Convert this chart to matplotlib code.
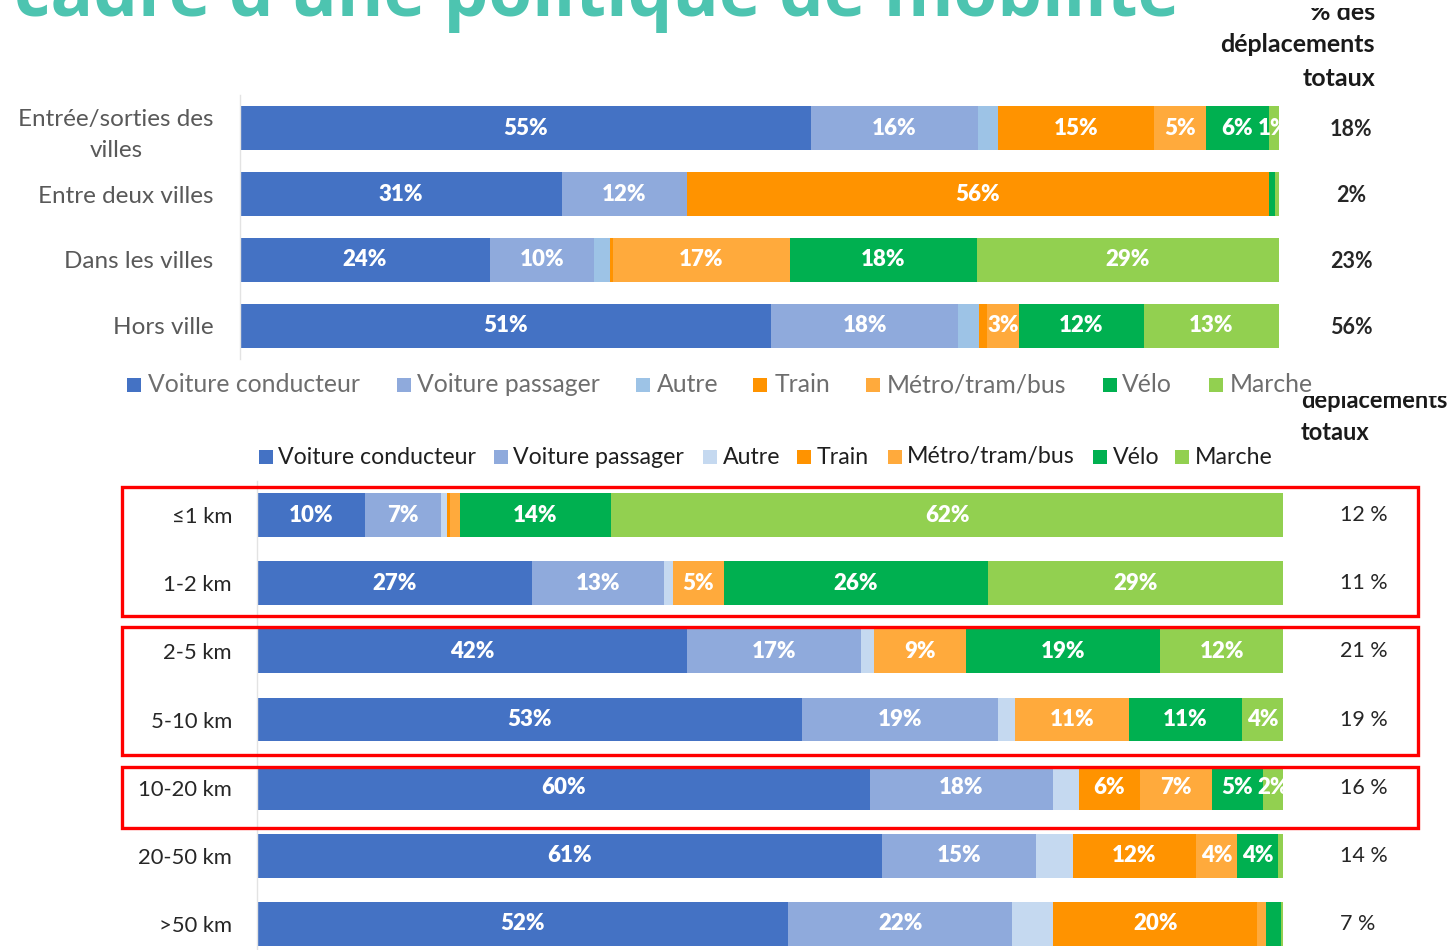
import matplotlib
matplotlib.use("Agg")
import matplotlib.pyplot as plt
from matplotlib.patches import Rectangle
import numpy as np

W, H = 1450, 950

# ---------------- data ----------------
series = ["Voiture conducteur", "Voiture passager", "Autre", "Train",
          "Métro/tram/bus", "Vélo", "Marche"]
colors_top = ["#4472C4", "#8FAADC", "#9DC3E6", "#FF9300", "#FFAA3C", "#00B050", "#92D050"]
colors_bot = ["#4472C4", "#8FAADC", "#C5D9F0", "#FF9300", "#FFAA3C", "#00B050", "#92D050"]

top_cats = ["Entrée/sorties des\nvilles", "Entre deux villes", "Dans les villes", "Hors ville"]
top_vc = [55, 31, 24, 51]
top_vp = [16, 12, 10, 18]
top_autre = [2, 0, 1.5, 2]
top_train = [15, 56, 0.3, 0.8]
top_metro = [5, 0, 17, 3]
top_velo = [6, 0.6, 18, 12]
top_marche = [1, 0.4, 29, 13]
top_share = ["18%", "2%", "23%", "56%"]

bot_cats = ["≤1 km", "1-2 km", "2-5 km", "5-10 km", "10-20 km", "20-50 km", ">50 km"]
bot_vc = [10, 27, 42, 53, 60, 61, 52]
bot_vp = [7, 13, 17, 19, 18, 15, 22]
bot_autre = [0.5, 0.9, 1.3, 1.7, 2.5, 3.6, 4]
bot_train = [0.3, 0, 0, 0, 6, 12, 20]
bot_metro = [0.9, 5, 9, 11, 7, 4, 0.8]
bot_velo = [14, 26, 19, 11, 5, 4, 1.5]
bot_marche = [62, 29, 12, 4, 2, 0.5, 0.2]
bot_share = ["12 %", "11 %", "21 %", "19 %", "16 %", "14 %", "7 %"]

title = "cadre d'une politique de mobilité"

# ---------------- helpers ----------------
plt.rcParams["font.family"] = ["Lato", "DejaVu Sans"]

fig = plt.figure(figsize=(W / 100, H / 100), dpi=100)
fig.patch.set_facecolor("white")


def fx(x):
    return x / W


def fy(y):
    return 1 - y / H


def axes_px(left, top, right, bottom):
    return fig.add_axes([fx(left), fy(bottom), (right - left) / W, (bottom - top) / H])


def stacked(ax, cats, cols, colors, height, fs):
    data = np.array(cols, dtype=float)  # series x rows
    totals = data.sum(axis=0)
    norm = data / totals * 100
    y = np.arange(len(cats))
    left = np.zeros(len(cats))
    for i, name in enumerate(series):
        ax.barh(y, norm[i], left=left, height=height, color=colors[i],
                edgecolor="none", zorder=2)
        for j in range(len(cats)):
            v = data[i, j]
            if name != "Autre" and v > 0 and float(v).is_integer():
                ax.text(left[j] + norm[i, j] / 2, y[j], f"{v:.0f}%", ha="center",
                        va="center", color="white", fontsize=fs, fontweight="heavy",
                        clip_on=True, zorder=3)
        left += norm[i]
    ax.set_xlim(0, 100)
    ax.set_ylim(len(cats) - 0.5, -0.5)
    ax.set_xticks([])
    for s in ["top", "right", "bottom"]:
        ax.spines[s].set_visible(False)
    ax.spines["left"].set_color("#E3E3E3")
    ax.spines["left"].set_linewidth(1.0)
    ax.set_yticks(y)
    ax.tick_params(axis="y", length=0)
    ax.set_facecolor("none")


# ---------------- top chart ----------------
ax1 = axes_px(240, 95, 1279, 359)
stacked(ax1, top_cats,
        [top_vc, top_vp, top_autre, top_train, top_metro, top_velo, top_marche],
        colors_top, 44 / 66, 16)
ax1.set_yticklabels(top_cats, fontsize=17.5, color="#595959", linespacing=1.6)
ax1.tick_params(axis="y", pad=19)
for lab in ax1.get_yticklabels():
    lab.set_multialignment("center")
for j, s in enumerate(top_share):
    fig.text(fx(1351), fy(130 + 66 * j), s, ha="center", va="center",
             fontsize=15.5, fontweight="bold", color="#262626")

# header top (first line partly hidden under the title area)
for txt, yy in [("% des", 12), ("déplacements", 45), ("totaux", 78)]:
    fig.text(fx(1375), fy(yy), txt, ha="right", va="center", fontsize=18,
             fontweight="bold", color="#1A1A1A", zorder=3)
fig.add_artist(Rectangle((fx(1290), fy(8)), (1400 - 1290) / W, 8 / H,
                         transform=fig.transFigure, facecolor="white",
                         edgecolor="none", zorder=3.5))

# ---------------- bottom chart ----------------
ax2 = axes_px(257, 481, 1283, 958)
stacked(ax2, bot_cats,
        [bot_vc, bot_vp, bot_autre, bot_train, bot_metro, bot_velo, bot_marche],
        colors_bot, 0.645, 16)
ax2.set_yticklabels(bot_cats, fontsize=15.8, color="#262626")
ax2.tick_params(axis="y", pad=18)
row_h = (924 - 515) / 6
for j, s in enumerate(bot_share):
    fig.text(fx(1340), fy(515 + row_h * j), s, ha="left", va="center",
             fontsize=15.5, color="#262626")

# header bottom (partly hidden)
fig.text(fx(1301), fy(401), "déplacements", ha="left", va="center", fontsize=17,
         fontweight="bold", color="#1A1A1A", zorder=3)
fig.text(fx(1301), fy(433), "totaux", ha="left", va="center", fontsize=17,
         fontweight="bold", color="#1A1A1A", zorder=3)
fig.add_artist(Rectangle((fx(1285), fy(396)), (1450 - 1285) / W, 30 / H,
                         transform=fig.transFigure, facecolor="white",
                         edgecolor="none", zorder=3.5))

# ---------------- legends ----------------
top_leg = [(127, 148), (397, 417), (636, 657), (753, 775), (866, 887), (1103, 1122), (1209, 1230)]
for (sx, tx), name, c in zip(top_leg, series, colors_top):
    fig.add_artist(Rectangle((fx(sx), fy(392)), 14 / W, 14 / H, transform=fig.transFigure,
                             facecolor=c, edgecolor="none", zorder=5))
    fig.text(fx(tx), fy(385), name, ha="left", va="center", fontsize=17.8,
             color="#6E6E6E", zorder=5)

bot_leg = [(259, 278), (494, 513), (703, 723), (797, 817), (888, 907), (1093, 1113), (1175, 1195)]
for (sx, tx), name, c in zip(bot_leg, series, colors_bot):
    fig.add_artist(Rectangle((fx(sx), fy(464)), 14 / W, 14 / H, transform=fig.transFigure,
                             facecolor=c, edgecolor="none", zorder=5))
    fig.text(fx(tx), fy(457), name, ha="left", va="center", fontsize=16.7,
             color="#1F1F1F", zorder=5)

# ---------------- red boxes ----------------
for (x0, y0, x1, y1) in [(122, 487, 1418, 616), (122, 627, 1418, 755), (122, 767, 1418, 828)]:
    fig.add_artist(Rectangle((fx(x0), fy(y1)), (x1 - x0) / W, (y1 - y0) / H,
                             transform=fig.transFigure, facecolor="none",
                             edgecolor="#FF0000", linewidth=2.4, zorder=6))

# ---------------- title (cut off at top) ----------------
fig.text(fx(14), fy(16), title, ha="left", va="baseline", fontsize=51,
         fontweight="bold", color="#4DC4B0", family=["Open Sans", "DejaVu Sans"], zorder=6)

fig.savefig("out.png", dpi=100, facecolor="white")
